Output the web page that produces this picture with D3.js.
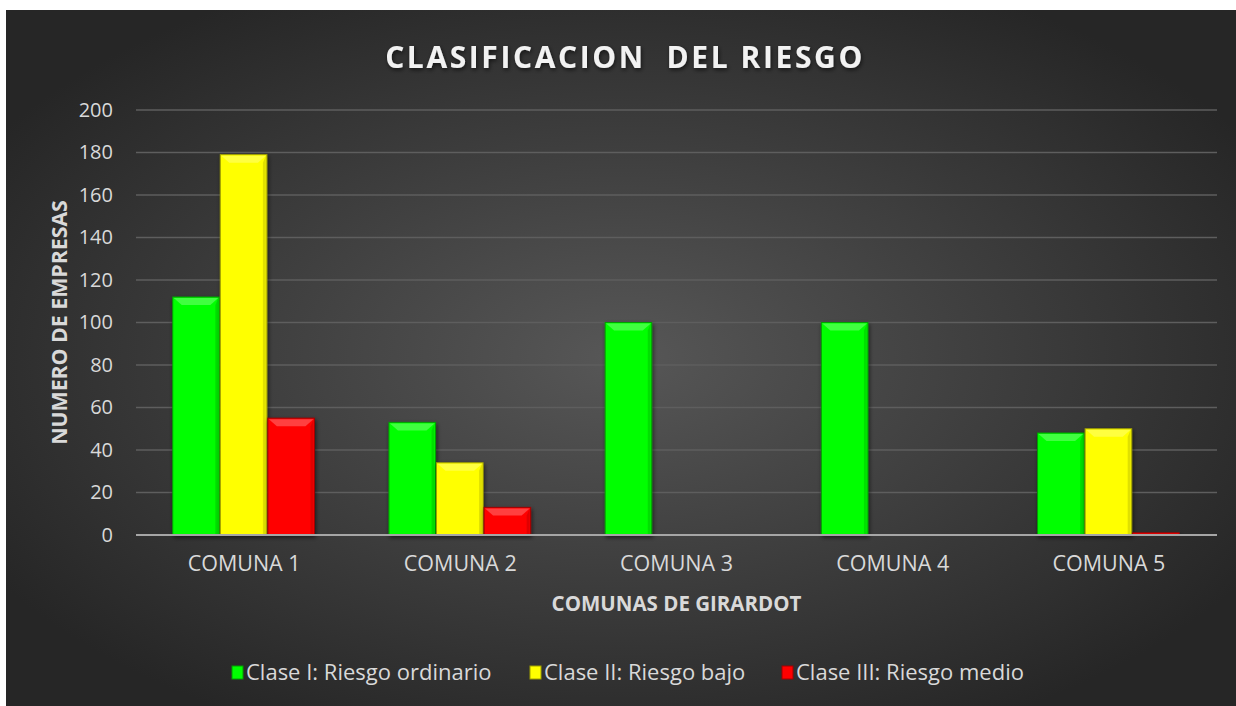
<!DOCTYPE html>
<html>
<head>
<meta charset="utf-8">
<script src="https://cdn.jsdelivr.net/npm/d3@7"></script>
<style>
  body { margin: 0; background: #fff; }
  svg { display: block; font-family: "Open Sans", sans-serif; }
</style>
</head>
<body>
<div id="chart"></div>
<script>
// data
var comunas = ["COMUNA 1", "COMUNA 2", "COMUNA 3", "COMUNA 4", "COMUNA 5"];
var claseI = [112, 53, 100, 100, 48];
var claseII = [179, 34, 0, 0, 50];
var claseIII = [55, 13, 0, 0, 1];
var seriesNames = ["Clase I: Riesgo ordinario", "Clase II: Riesgo bajo", "Clase III: Riesgo medio"];
var yTicks = [0, 20, 40, 60, 80, 100, 120, 140, 160, 180, 200];

var seriesColors = ["#00ff00", "#ffff00", "#ff0000"];
var edgeColors = ["#00a000", "#a0a000", "#a00000"];

var W = 1236, H = 706;
var margin = {left: 136, right: 19, top: 110, bottom: 171};

var svg = d3.select("#chart").append("svg")
    .attr("width", W)
    .attr("height", H);

var defs = svg.append("defs");
var bg = defs.append("radialGradient")
    .attr("id", "bg")
    .attr("cx", "50%").attr("cy", "50%").attr("r", "60%");
bg.append("stop").attr("offset", "0%").attr("stop-color", "#575757");
bg.append("stop").attr("offset", "100%").attr("stop-color", "#262626");

var shadow = defs.append("filter").attr("id", "shadow")
    .attr("x", "-20%").attr("y", "-20%").attr("width", "140%").attr("height", "140%");
shadow.append("feDropShadow")
    .attr("dx", 1).attr("dy", 2).attr("stdDeviation", 2)
    .attr("flood-color", "#000").attr("flood-opacity", 0.6);

svg.append("rect")
    .attr("x", 6).attr("y", 10)
    .attr("width", W - 6).attr("height", H - 10)
    .attr("fill", "url(#bg)");

var x0 = d3.scaleBand()
    .domain(comunas)
    .range([margin.left, W - margin.right]);

var x1 = d3.scaleBand()
    .domain([0, 1, 2])
    .range([0, x0.bandwidth() * 0.66]);

var y = d3.scaleLinear()
    .domain([0, 200])
    .range([H - margin.bottom, margin.top]);

// gridlines
svg.append("g")
    .selectAll("line")
    .data(yTicks.slice(1))
    .enter().append("line")
    .attr("x1", margin.left)
    .attr("x2", W - margin.right)
    .attr("y1", function (d) { return y(d); })
    .attr("y2", function (d) { return y(d); })
    .attr("stroke", "#5e5e5e")
    .attr("stroke-width", 1.5);

// y axis labels
var yAxis = d3.axisLeft(y).tickValues(yTicks).tickSize(0).tickPadding(23);
var yg = svg.append("g")
    .attr("transform", "translate(" + margin.left + ",0)")
    .call(yAxis);
yg.select(".domain").remove();
yg.selectAll("text")
    .attr("fill", "#d9d9d9")
    .style("font-size", "20px")
    .style("font-family", "Open Sans");

// bars
var allSeries = [claseI, claseII, claseIII];
var groupPad = (x0.bandwidth() - x1.range()[1]) / 2;

var groups = svg.append("g")
    .selectAll("g")
    .data(comunas)
    .enter().append("g")
    .attr("transform", function (d) { return "translate(" + (x0(d) + groupPad) + ",0)"; });

groups.each(function (c, ci) {
    var g = d3.select(this);
    for (var s = 0; s < 3; s++) {
        var v = allSeries[s][ci];
        if (v <= 0) continue;
        var bx = x1(s), bw = x1.bandwidth() - 1;
        var by = y(v), bh = y(0) - y(v);
        g.append("rect")
            .attr("x", bx).attr("y", by)
            .attr("width", bw).attr("height", bh)
            .attr("fill", seriesColors[s])
            .attr("stroke", edgeColors[s])
            .attr("stroke-width", 1)
            .attr("filter", "url(#shadow)");
        // bevel highlight on top
        var bev = Math.min(8, bh / 2, bw / 2);
        if (bh > 3) {
            g.append("path")
                .attr("d", "M" + (bx + 1) + "," + (by + 1) + "L" + (bx + bw - 1) + "," + (by + 1) +
                    "L" + (bx + bw - 1 - bev) + "," + (by + bev) + "L" + (bx + 1 + bev) + "," + (by + bev) + "Z")
                .attr("fill", "#fff")
                .attr("opacity", 0.25);
            g.append("path")
                .attr("d", "M" + (bx + bw - 1) + "," + (by + 1) + "L" + (bx + bw - 1) + "," + (by + bh) +
                    "L" + (bx + bw - 1 - 3) + "," + (by + bh) + "L" + (bx + bw - 1 - 3) + "," + (by + bev) + "Z")
                .attr("fill", "#000")
                .attr("opacity", 0.12);
        }
    }
});

// x axis line
svg.append("line")
    .attr("x1", margin.left).attr("x2", W - margin.right)
    .attr("y1", y(0)).attr("y2", y(0))
    .attr("stroke", "#a6a6a6")
    .attr("stroke-width", 2);

var xAxis = d3.axisBottom(x0).tickSize(0).tickPadding(21);
var xg = svg.append("g")
    .attr("transform", "translate(0," + y(0) + ")")
    .call(xAxis);
xg.select(".domain").remove();
xg.selectAll("text")
    .attr("fill", "#d9d9d9")
    .style("font-size", "21.5px")
    .style("font-family", "Open Sans");

// title
svg.append("text")
    .attr("x", 625).attr("y", 68)
    .attr("text-anchor", "middle")
    .attr("fill", "#f2f2f2")
    .attr("filter", "url(#shadow)")
    .style("font-size", "30px")
    .style("font-weight", "bold")
    .style("letter-spacing", "2.6px")
    .style("white-space", "pre")
    .text("CLASIFICACION  DEL RIESGO");

// axis titles
svg.append("text")
    .attr("x", (margin.left + W - margin.right) / 2).attr("y", 611)
    .attr("text-anchor", "middle")
    .attr("fill", "#d9d9d9")
    .style("font-size", "20.5px")
    .style("font-weight", "bold")
    .text("COMUNAS DE GIRARDOT");

svg.append("text")
    .attr("transform", "translate(67," + y(100) + ") rotate(-90)")
    .attr("text-anchor", "middle")
    .attr("fill", "#d9d9d9")
    .style("font-size", "21.3px")
    .style("font-weight", "bold")
    .text("NUMERO DE EMPRESAS");

// legend
var legendX = [232, 530, 782];
var legend = svg.append("g")
    .selectAll("g")
    .data(seriesNames)
    .enter().append("g")
    .attr("transform", function (d, i) { return "translate(" + legendX[i] + ",666)"; });
legend.append("rect")
    .attr("width", 11).attr("height", 13)
    .attr("fill", function (d, i) { return seriesColors[i]; })
    .attr("stroke", function (d, i) { return edgeColors[i]; });
legend.append("text")
    .attr("x", 14).attr("y", 14)
    .attr("fill", "#d9d9d9")
    .style("font-size", "22px")
    .text(function (d) { return d; });
</script>
</body>
</html>
